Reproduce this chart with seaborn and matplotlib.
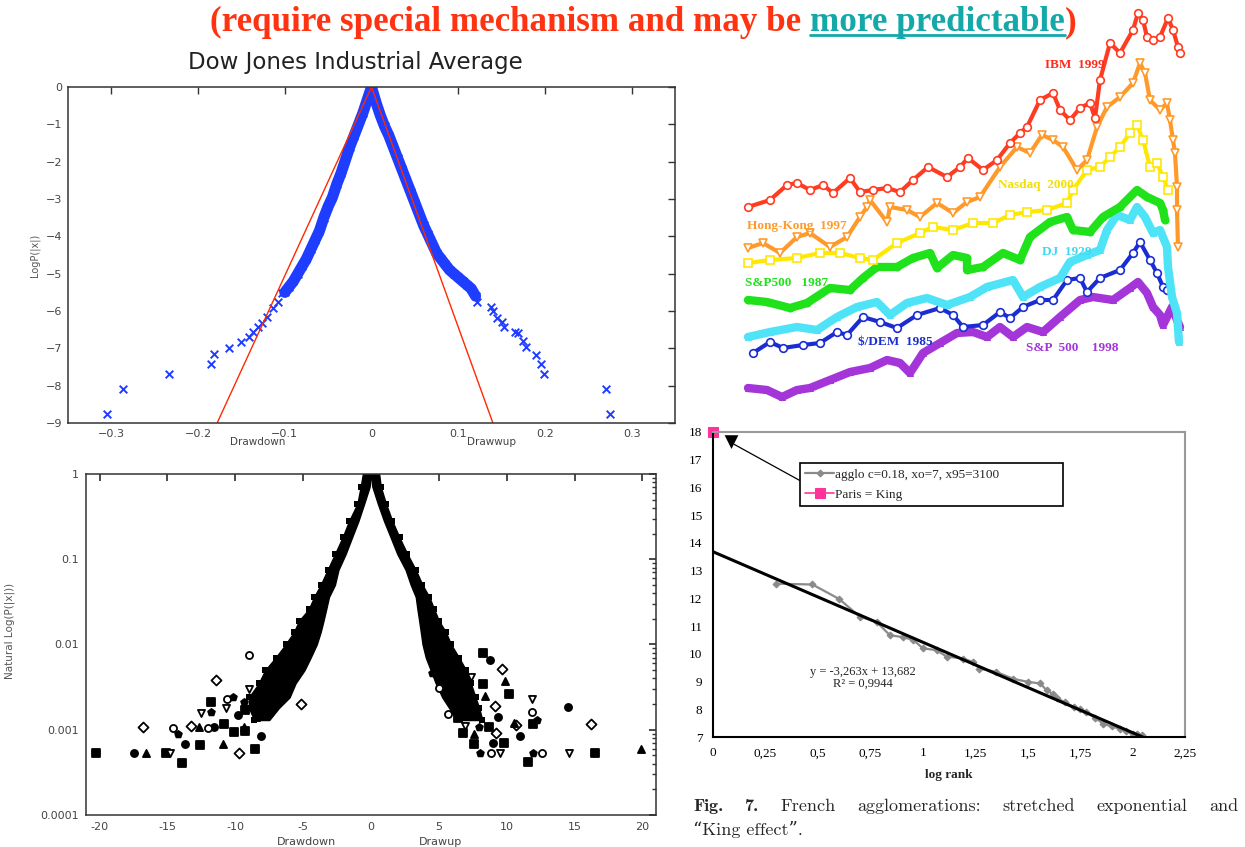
import numpy as np
import matplotlib
matplotlib.use("Agg")
import matplotlib.pyplot as plt
from matplotlib.lines import Line2D
from matplotlib.ticker import LogLocator, NullFormatter
import seaborn as sns

W, H = 1245, 847

# ---- Dow Jones: log P(|x|) of drawdowns / drawups ----
dj_down_x = [0.0, -0.005, -0.01, -0.015, -0.02, -0.025, -0.03, -0.035, -0.04, -0.045, -0.05, -0.055,
             -0.06, -0.065, -0.07, -0.075, -0.08, -0.085, -0.09, -0.095, -0.1, -0.103, -0.108, -0.114,
             -0.12, -0.126, -0.131, -0.137, -0.141, -0.151, -0.164, -0.182, -0.185, -0.234, -0.286, -0.305]
dj_down_y = [0.0, -0.35, -0.7, -1.0, -1.3, -1.6, -1.95, -2.3, -2.6, -2.95, -3.2, -3.5,
             -3.85, -4.1, -4.35, -4.6, -4.8, -5.0, -5.2, -5.35, -5.5, -5.53, -5.75, -5.93,
             -6.15, -6.33, -6.42, -6.56, -6.69, -6.84, -6.99, -7.16, -7.41, -7.69, -8.10, -8.77]
dj_up_x = [0.0, 0.005, 0.01, 0.015, 0.02, 0.025, 0.03, 0.035, 0.04, 0.045, 0.05, 0.055, 0.06, 0.065,
           0.07, 0.075, 0.08, 0.085, 0.09, 0.095, 0.1, 0.105, 0.11, 0.115, 0.12, 0.122, 0.138, 0.14,
           0.145, 0.15, 0.153, 0.165, 0.169, 0.175, 0.178, 0.19, 0.196, 0.199, 0.271, 0.275]
dj_up_y = [0.0, -0.4, -0.75, -1.05, -1.3, -1.6, -1.9, -2.2, -2.5, -2.8, -3.1, -3.4, -3.7, -3.95,
           -4.2, -4.45, -4.6, -4.75, -4.9, -5.0, -5.1, -5.2, -5.3, -5.4, -5.6, -5.75, -5.9, -6.0,
           -6.2, -6.3, -6.42, -6.55, -6.6, -6.8, -6.96, -7.18, -7.41, -7.69, -8.10, -8.77]
exp_down_x = [0.0, -0.178]
exp_down_y = [0.0, -9.0]
exp_up_x = [0.0, 0.14]
exp_up_y = [0.0, -9.0]
dj_xticks = [-0.3, -0.2, -0.1, 0, 0.1, 0.2, 0.3]
dj_xlabels = ["\u22120.3", "\u22120.2", "\u22120.1", "0", "0.1", "0.2", "0.3"]

# ---- many markets: natural log P(|x|) ----
cone_y = [1.0, 0.71, 0.45, 0.28, 0.18, 0.115, 0.075, 0.05, 0.036, 0.026, 0.019, 0.014, 0.010,
          0.007, 0.005, 0.0035, 0.0024, 0.0018, 0.0013]
cone_left_outer = [-0.6, -0.76, -1.0, -1.62, -2.1, -2.66, -3.2, -3.71, -4.2, -4.58, -5.3, -5.68, -6.3,
                   -7.03, -7.8, -8.27, -9.0, -9.0, -8.6]
cone_left_inner = [0.0, -0.1, -0.5, -0.93, -1.4, -1.87, -2.4, -2.66, -3.1, -3.3, -3.5, -3.71, -4.0,
                   -4.45, -4.9, -5.56, -6.0, -6.79, -7.5]
cone_right_inner = [0.0, 0.1, 0.5, 0.96, 1.45, 1.94, 2.55, 2.93, 3.3, 3.42, 3.55, 3.67, 3.8,
                    4.04, 4.4, 4.77, 5.25, 5.76, 6.3]
cone_right_outer = [0.6, 0.72, 1.1, 1.57, 2.1, 2.68, 3.3, 3.79, 4.3, 4.65, 5.0, 5.51, 5.9,
                    6.49, 7.0, 7.36, 7.7, 7.97, 8.2]
dd_x = [-20.3, -17.5, -16.8, -16.6, -15.1, -14.8, -14.6, -14.2, -13.95, -13.7, -13.3, -12.7, -12.6,
        -12.5, -12.0, -11.8, -11.8, -11.6, -11.4, -10.9, -10.8, -10.7, -10.6, -10.2, -10.1, -9.8,
        -9.76, -9.37, -9.25, -8.96, -8.96, -9.37, -8.54, -8.1, -5.16, -8.5, -9.3]
dd_y = [0.00053, 0.00053, 0.00107, 0.00053, 0.00053, 0.00053, 0.00104, 0.00090, 0.00041, 0.00068,
        0.00112, 0.00107, 0.00067, 0.00156, 0.00104, 0.0016, 0.0021, 0.00107, 0.0038, 0.00068,
        0.00118, 0.0018, 0.0023, 0.0024, 0.00093, 0.0015, 0.00054, 0.00107, 0.00096, 0.0030,
        0.0075, 0.0021, 0.00060, 0.00085, 0.0020, 0.0014, 0.0017]
du_x = [8.24, 8.78, 9.67, 9.84, 10.16, 11.86, 11.86, 12.25, 11.93, 14.5, 16.2, 19.9, 16.5, 14.6,
        12.6, 11.9, 11.6, 10.95, 10.7, 10.5, 9.8, 9.47, 8.86, 8.0, 7.6, 8.98, 9.2, 7.6, 6.77, 6.96,
        5.66, 7.99, 8.66, 9.35, 9.1, 8.41, 8.24, 7.38, 5.04, 4.5, 6.4]
du_y = [0.0079, 0.0066, 0.0052, 0.0037, 0.0026, 0.0023, 0.0016, 0.00131, 0.00118, 0.00187, 0.00118,
        0.00059, 0.00053, 0.00054, 0.00054, 0.00053, 0.00042, 0.00085, 0.00115, 0.0012, 0.00069,
        0.00054, 0.00054, 0.00054, 0.00068, 0.00069, 0.00091, 0.00088, 0.00091, 0.00111, 0.00154,
        0.00109, 0.00109, 0.00140, 0.0019, 0.0025, 0.0034, 0.0042, 0.0031, 0.0046, 0.00137]
nl_xticks = [-20, -15, -10, -5, 0, 5, 10, 15, 20]
nl_xlabels = ["-20", "-15", "-10", "-5", "0", "5", "10", "15", "20"]
nl_yticks = [0.0001, 0.001, 0.01, 0.1, 1]
nl_ylabels = ["0.0001", "0.001", "0.01", "0.1", "1"]

# ---- bubbles: log price vs time (offset) ----
ibm_t = [8, 30, 47, 57, 70, 83, 93, 110, 120, 133, 147, 160, 173, 188, 207, 220, 228, 243, 257, 270, 280,
         287, 300, 313, 320, 330, 340, 350, 355, 360, 370, 380, 393, 398, 403, 407, 413, 420, 428, 433, 438, 440]
ibm_v = [203, 210, 225, 227, 220, 225, 217, 232, 218, 220, 222, 218, 230, 243, 233, 243, 252, 240, 250, 267, 277,
         283, 310, 317, 300, 290, 302, 307, 292, 330, 367, 357, 380, 397, 390, 373, 370, 373, 392, 380, 363, 357]
hk_t = [8, 23, 40, 57, 70, 90, 107, 120, 127, 130, 147, 150, 167, 180, 197, 213, 227, 240, 260, 277, 290,
        302, 313, 323, 337, 347, 357, 367, 380, 393, 400, 405, 410, 420, 427, 430, 433, 435, 437, 437, 438]
hk_v = [162, 167, 157, 173, 177, 163, 173, 193, 203, 210, 188, 203, 200, 193, 207, 197, 208, 213, 243, 263, 257,
        275, 270, 263, 240, 250, 283, 303, 313, 327, 347, 337, 310, 300, 307, 290, 270, 257, 223, 200, 163]
nasdaq_t = [8, 30, 57, 80, 100, 120, 133, 157, 180, 193, 213, 233, 253, 270, 287, 307, 327, 333, 347, 360,
            370, 380, 390, 397, 403, 410, 417, 423, 428]
nasdaq_v = [147, 150, 152, 157, 157, 152, 150, 167, 177, 183, 180, 187, 187, 195, 198, 200, 207, 220, 240, 243,
            253, 263, 277, 285, 270, 243, 247, 233, 220]
sp87_t = [8, 27, 50, 67, 90, 110, 123, 137, 157, 173, 190, 197, 213, 227, 227, 243, 263, 280, 290, 310, 327,
          333, 350, 363, 380, 397, 407, 420, 423, 425]
sp87_v = [110, 108, 102, 107, 122, 120, 132, 143, 143, 152, 157, 142, 155, 152, 140, 143, 157, 150, 173, 188, 193,
          180, 178, 193, 203, 220, 213, 207, 200, 190]
dj29_t = [8, 30, 57, 77, 97, 117, 137, 150, 167, 187, 207, 230, 247, 273, 283, 300, 320, 330, 347, 360, 367,
          377, 390, 397, 405, 413, 420, 427, 428, 432, 437, 439]
dj29_v = [73, 78, 83, 80, 93, 103, 108, 95, 107, 112, 105, 113, 123, 130, 113, 123, 132, 148, 155, 160, 180,
          195, 190, 203, 193, 177, 180, 163, 143, 113, 97, 68]
dem_t = [13, 30, 43, 63, 80, 97, 107, 123, 140, 157, 177, 200, 213, 223, 243, 260, 270, 283, 300, 313, 327,
         340, 347, 360, 380, 393, 400, 410, 417, 423, 427]
dem_v = [57, 68, 62, 65, 67, 78, 75, 93, 88, 82, 95, 102, 95, 83, 85, 98, 92, 103, 110, 110, 130,
         132, 118, 132, 140, 157, 168, 150, 137, 123, 120]
sp98_t = [8, 27, 42, 57, 70, 90, 110, 130, 147, 160, 170, 183, 200, 217, 233, 247, 260, 273, 287, 303, 320,
          340, 353, 373, 390, 398, 407, 413, 420, 423, 432, 437, 440]
sp98_v = [22, 20, 13, 20, 22, 30, 38, 42, 50, 47, 37, 57, 67, 77, 78, 73, 83, 73, 83, 78, 93,
          110, 113, 110, 122, 128, 117, 103, 95, 85, 103, 90, 83]

# ---- French agglomerations ----
agglo_x = [0.30, 0.474, 0.601, 0.70, 0.78, 0.843, 0.907, 0.955, 1.0, 1.066, 1.114, 1.193, 1.24, 1.27, 1.35,
           1.43, 1.50, 1.56, 1.59, 1.62, 1.64, 1.68, 1.72, 1.75, 1.78, 1.82, 1.86, 1.90, 1.94, 1.97, 2.0, 2.02, 2.045]
agglo_y = [12.53, 12.50, 11.98, 11.34, 11.15, 10.67, 10.6, 10.5, 10.2, 10.13, 9.9, 9.83, 9.7, 9.47, 9.35,
           9.1, 8.99, 8.93, 8.69, 8.55, 8.39, 8.25, 8.08, 8.0, 7.9, 7.7, 7.48, 7.38, 7.3, 7.2, 7.12, 7.1, 7.06]
paris_x = [0.0]
paris_y = [18.0]
fit_coef = [-3.263, 13.682]
fit_x = [0.0, 2.05]
fr_xticks = [0, 0.25, 0.5, 0.75, 1, 1.25, 1.5, 1.75, 2, 2.25]
fr_xlabels = ["0", "0,25", "0,5", "0,75", "1", "1,25", "1,5", "1,75", "2", "2,25"]
fr_yticks = [7, 8, 9, 10, 11, 12, 13, 14, 15, 16, 17, 18]
caption_words = ["Fig.", "7.", "French", "agglomerations:", "stretched", "exponential", "and"]

sns.set_theme(style="white")
plt.rcParams["font.family"] = ["DejaVu Sans"]

fig = plt.figure(figsize=(W / 100, H / 100), dpi=100)
renderer = fig.canvas.get_renderer()


def px_axes(x0, y0, x1, y1):
    return fig.add_axes([x0 / W, 1 - y1 / H, (x1 - x0) / W, (y1 - y0) / H])


def fx(x):
    return x / W


def fy(y):
    return 1 - y / H


# ---------------- top left ----------------
ax1 = px_axes(68, 87, 675, 423)
blue = "#1f3dff"
red = "#ff2a00"
sns.lineplot(x=dj_down_x[:21], y=dj_down_y[:21], color=blue, lw=8, sort=False, estimator=None, ax=ax1)
sns.lineplot(x=dj_up_x[:25], y=dj_up_y[:25], color=blue, lw=8, sort=False, estimator=None, ax=ax1)
sns.scatterplot(x=dj_down_x, y=dj_down_y, marker="x", color=blue, s=30, linewidth=1.4, ax=ax1)
sns.scatterplot(x=dj_up_x, y=dj_up_y, marker="x", color=blue, s=30, linewidth=1.4, ax=ax1)
sns.lineplot(x=exp_down_x, y=exp_down_y, color=red, lw=1.0, ax=ax1)
sns.lineplot(x=exp_up_x, y=exp_up_y, color=red, lw=1.0, ax=ax1)
ax1.set_xlim(-0.35, 0.35)
ax1.set_ylim(-9, 0)
ax1.set_xticks(dj_xticks)
ax1.set_xticklabels(dj_xlabels)
ax1.set_yticks(range(-9, 1))
ax1.set_yticklabels([str(v).replace("-", "\u2212") for v in range(-9, 1)])
ax1.tick_params(direction="in", length=5, width=1, top=True, right=True, labelsize=8,
                labelcolor="#444444", color="#333333", pad=4)
for s in ax1.spines.values():
    s.set_color("#333333")
    s.set_linewidth(1.1)
ax1.set_xlabel("")
ax1.set_ylabel("LogP(|x|)", fontsize=7, color="#555555")
ax1.yaxis.set_label_coords(-0.046, 0.5)
fig.text(fx(355), fy(63), "Dow Jones Industrial Average", fontsize=16.5, color="#222222",
         ha="center", va="center")
fig.text(fx(258), fy(442), "Drawdown", fontsize=7.5, color="#444444", ha="center", va="center")
fig.text(fx(492), fy(442), "Drawwup", fontsize=7.5, color="#444444", ha="center", va="center")

# ---------------- bottom left ----------------
ax2 = px_axes(86, 474, 656, 815)
ax2.set_yscale("log")
ax2.fill_betweenx(cone_y, cone_left_outer, cone_left_inner, color="black", lw=1)
ax2.fill_betweenx(cone_y, cone_right_inner, cone_right_outer, color="black", lw=1)
for bx in (cone_left_outer, cone_right_outer):
    sns.scatterplot(x=bx[1:], y=cone_y[1:], marker="s", color="black", s=14, linewidth=0, ax=ax2)
shapes = ["s", "o", "D", "^", "s", "v", "o", "p"]
for xs, ys in ((dd_x, dd_y), (du_x, du_y)):
    for k, m in enumerate(shapes):
        sx = xs[k::len(shapes)]
        sy = ys[k::len(shapes)]
        face = "white" if k in (2, 5, 6) else "black"
        sns.scatterplot(x=sx, y=sy, marker=m, color=face, edgecolor="black", s=26,
                        linewidth=1.3, ax=ax2)
ax2.set_xlim(-21, 21)
ax2.set_ylim(0.0001, 1)
ax2.set_xticks(nl_xticks)
ax2.set_xticklabels(nl_xlabels)
ax2.set_yticks(nl_yticks)
ax2.set_yticklabels(nl_ylabels)
ax2.yaxis.set_minor_locator(LogLocator(base=10, subs=np.arange(2, 10)))
ax2.yaxis.set_minor_formatter(NullFormatter())
ax2.tick_params(which="both", direction="in", top=True, right=True, color="#333333")
ax2.tick_params(which="major", length=5, labelsize=8, labelcolor="#444444", pad=5)
ax2.tick_params(which="minor", length=3)
for s in ax2.spines.values():
    s.set_color("#333333")
    s.set_linewidth(1.1)
ax2.set_ylabel("Natural Log(P(|x|))", fontsize=7.5, color="#555555")
ax2.yaxis.set_label_coords(-0.125, 0.54)
fig.text(fx(307), fy(842), "Drawdown", fontsize=8, color="#444444", ha="center", va="center")
fig.text(fx(440), fy(842), "Drawup", fontsize=8, color="#444444", ha="center", va="center")

# ---------------- top right ----------------
ax3 = px_axes(740, 0, 1200, 410)
series = [
    (sp98_t, sp98_v, "#a335d9", "^", True),
    (dem_t, dem_v, "#1a2dd2", "o", False),
    (dj29_t, dj29_v, "#4fe3f7", "^", True),
    (sp87_t, sp87_v, "#1fe21a", "o", True),
    (nasdaq_t, nasdaq_v, "#ffe800", "s", False),
    (hk_t, hk_v, "#ff9a2a", "v", False),
    (ibm_t, ibm_v, "#ff3b22", "o", False),
]
for t, v, c, m, filled in series:
    if filled:
        sns.lineplot(x=t, y=v, color=c, lw=6, sort=False, estimator=None, marker=m,
                     markersize=5, markeredgecolor=c, ax=ax3)
    else:
        sns.lineplot(x=t, y=v, color=c, lw=3, sort=False, estimator=None, marker=m,
                     markersize=5.5, markerfacecolor="white", markeredgecolor=c,
                     markeredgewidth=1.2, ax=ax3)
ax3.set_xlim(0, 460)
ax3.set_ylim(0, 410)
ax3.axis("off")
lab = dict(fontsize=9.5, fontweight="bold", family="Liberation Serif", ha="center", va="center")
ax3.text(335, 345, "IBM  1999", color="#ff2a1a", **lab)
ax3.text(57, 184, "Hong-Kong  1997", color="#ff9a2a", **lab)
ax3.text(296, 225, "Nasdaq  2000", color="#f2e000", **lab)
ax3.text(47, 127, "S&P500   1987", color="#1fe21a", **lab)
ax3.text(327, 158, "DJ  1929", color="#3fd8f0", **lab)
ax3.text(155, 68, "$/DEM  1985", color="#1a2dd2", **lab)
ax3.text(332, 62, "S&P  500    1998", color="#a335d9", **lab)

# ---------------- bottom right ----------------
ax4 = px_axes(713, 432, 1185, 737)
serif = "Liberation Serif"
sns.lineplot(x=agglo_x, y=agglo_y, color="#8a8a8a", lw=1.6, marker="D", markersize=3.5,
             markeredgecolor="#8a8a8a", sort=False, estimator=None,
             label="agglo c=0.18, xo=7, x95=3100", ax=ax4)
sns.lineplot(x=paris_x, y=paris_y, color="#ff3399", lw=1.2, marker="s", markersize=7,
             markeredgecolor="#ff3399", label="Paris = King", ax=ax4, clip_on=False)
sns.lineplot(x=fit_x, y=np.polyval(fit_coef, fit_x), color="black", lw=2.2, ax=ax4,
             label="_nolegend_")
ax4.annotate("", xy=(0.09, 17.6), xytext=(0.51, 15.85),
             arrowprops=dict(arrowstyle="-", color="black", lw=0.9))
sns.scatterplot(x=[0.084], y=[17.63], marker="v", color="black", s=130, ax=ax4)
ax4.set_xlim(0, 2.25)
ax4.set_ylim(7, 18)
ax4.set_xticks(fr_xticks)
ax4.set_xticklabels(fr_xlabels)
ax4.set_yticks(fr_yticks)
ax4.tick_params(direction="inout", length=7, width=1.2, color="black", labelsize=9.5,
                labelcolor="black", pad=4)
for lbl in ax4.get_xticklabels() + ax4.get_yticklabels():
    lbl.set_family(serif)
for side in ("left", "bottom"):
    ax4.spines[side].set_color("black")
    ax4.spines[side].set_linewidth(1.5)
for side in ("top", "right"):
    ax4.spines[side].set_color("#999999")
    ax4.spines[side].set_linewidth(1.5)
ax4.set_xlabel("log rank", fontsize=9.5, fontweight="bold", family=serif)
ax4.xaxis.set_label_coords(0.5, -0.105)
ax4.set_ylabel("")
leg = ax4.legend(loc="upper left", bbox_to_anchor=(0.184, 0.751, 0.558, 0.147), mode="expand",
                 alignment="center", frameon=True, fancybox=False, edgecolor="black",
                 framealpha=1, prop={"family": serif, "size": 9.5}, handlelength=2.2,
                 handletextpad=0.1, borderpad=0.4, labelspacing=0.6, borderaxespad=0)
leg.get_frame().set_linewidth(1.2)
ax4.text(0.715, 9.13, "y = -3,263x + 13,682\nR\u00b2 = 0,9944", ha="center", va="center",
         fontsize=9, family=serif, linespacing=1.0)

# caption, justified between x=693 and x=1238
cap = []
for i, w in enumerate(caption_words):
    fam = ["cmb10", "DejaVu Serif"] if i < 2 else ["cmr10", "DejaVu Serif"]
    cap.append(fig.text(fx(693), fy(806), w, fontsize=13, family=fam, va="center"))
widths = [a.get_window_extent(renderer).width for a in cap]
gap = (1238 - 693 - sum(widths)) / (len(cap) - 1)
xpos = 693
for a, wd in zip(cap, widths):
    a.set_x(fx(xpos))
    xpos += wd + gap
fig.text(fx(693), fy(829), "\u201cKing effect\u201d.", fontsize=13, family=["cmr10", "DejaVu Serif"],
         va="center")

# ---------------- headline ----------------
title_red = "#ff3311"
title_teal = "#14a8a8"
tkw = dict(fontsize=25.2, fontweight="bold", family="Liberation Serif", va="baseline")
t1 = fig.text(fx(210), fy(31), "(require special mechanism and may be ", color=title_red, **tkw)
b1 = t1.get_window_extent(renderer)
t2 = fig.text(b1.x1 / W, fy(31), "more predictable", color=title_teal, **tkw)
b2 = t2.get_window_extent(renderer)
fig.text(b2.x1 / W, fy(31), ")", color=title_red, **tkw)
fig.add_artist(Line2D([b2.x0 / W, b2.x1 / W], [fy(35), fy(35)], color=title_teal, lw=2,
                      transform=fig.transFigure))

fig.savefig("out.png", dpi=100)
